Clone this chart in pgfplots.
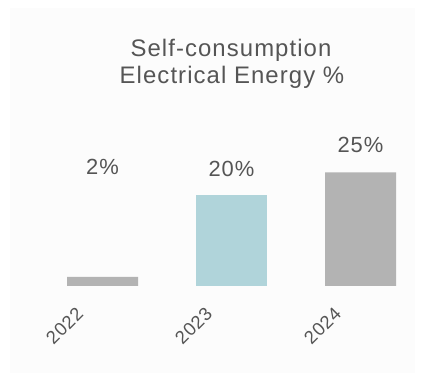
\documentclass[border=0pt]{standalone}
\usepackage{pgfplots}
\pgfplotsset{compat=1.18}
\usepackage{fontspec}
\setmainfont[LetterSpace=4.5]{Liberation Sans}
\definecolor{txt}{HTML}{555555}
\definecolor{barg}{HTML}{B3B3B3}
\definecolor{bart}{HTML}{B0D4DA}
\definecolor{bg}{HTML}{FCFCFC}
\begin{document}
\begin{tikzpicture}[x=1bp,y=1bp]
\useasboundingbox (0,0) rectangle (425,381);
\fill[bg] (10,8) rectangle (415,373);
\node[anchor=base, text=txt, font=\fontsize{24}{27}\selectfont] at (231,325) {Self-consumption};
\node[anchor=base, text=txt, font=\fontsize{24}{27}\selectfont] at (232,298) {Electrical Energy \%};
\begin{axis}[
  at={(38bp,95bp)}, anchor=south west,
  scale only axis, width=387bp, height=182bp,
  xmin=-0.5, xmax=2.5, ymin=0, ymax=40,
  axis line style={draw=none},
  major tick length=0pt,
  ytick=\empty,
  xtick={0,1,2},
  xticklabels={2022,2023,2024},
  xticklabel style={font=\fontsize{18.5}{20}\selectfont, text=txt, xshift=-20bp, yshift=-22bp, rotate=45, anchor=east},
  clip=false,
]
\addplot[ybar, bar width=71bp, bar shift=0pt, fill=barg, draw=none] coordinates {(0,2) (2,25)};
\addplot[ybar, bar width=71bp, bar shift=0pt, fill=bart, draw=none] coordinates {(1,20)};
\addplot[draw=none, mark=none, nodes near coords, point meta=explicit symbolic,
  nodes near coords style={anchor=center, text=txt, font=\fontsize{22}{24}\selectfont}]
  coordinates {(0,26.2)[2\%] (1,25.7)[20\%] (2,31)[25\%]};
\end{axis}
\end{tikzpicture}
\end{document}
